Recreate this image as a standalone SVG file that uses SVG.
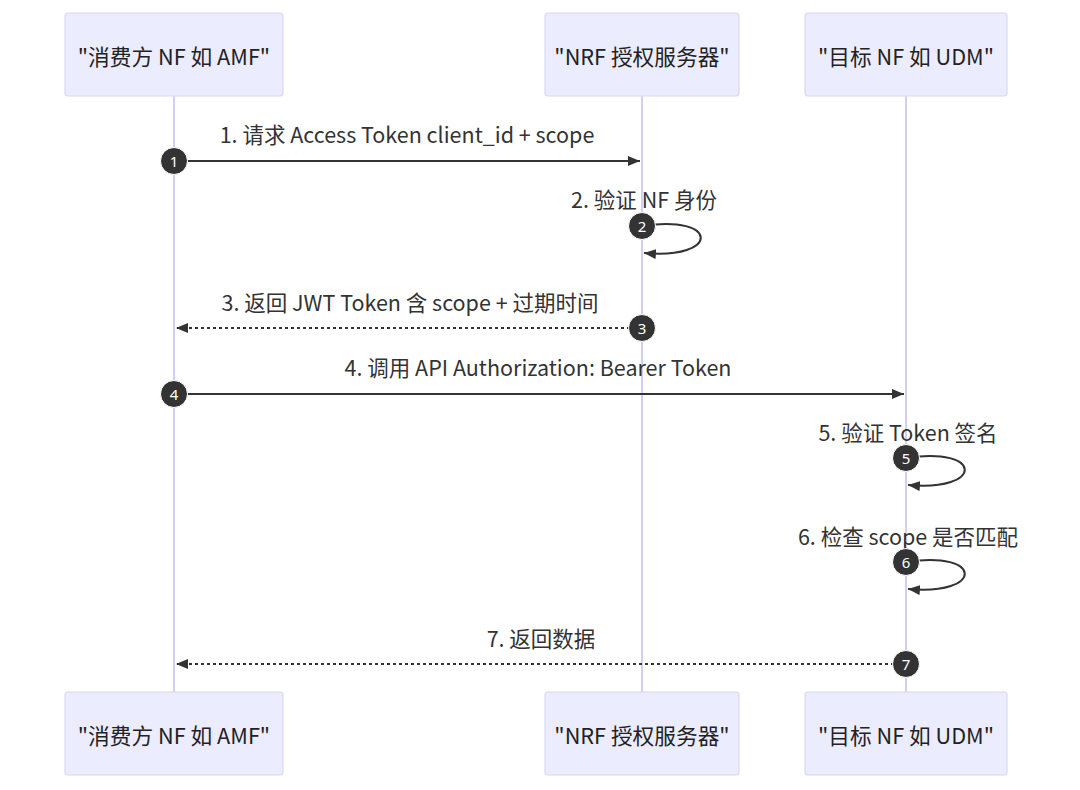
<svg xmlns="http://www.w3.org/2000/svg" width="1080" height="790" viewBox="0 0 1080 790">
<defs>
<style>
.actor{fill:#ECECFF;stroke:#d8d8f0;stroke-width:1.2}
.atxt{font-family:"Noto Sans CJK SC","Noto Sans",sans-serif;font-size:21.7px;fill:#222;text-anchor:middle;dominant-baseline:central}
.life{stroke:#d0d0f4;stroke-width:2}
.msg{stroke:#333;stroke-width:2;fill:none}
.dash{stroke-dasharray:3,3}
.mtxt{font-family:"Noto Sans CJK SC","Noto Sans",sans-serif;font-size:21.5px;fill:#333;text-anchor:middle}
.seq{fill:#333;stroke:#fff;stroke-width:1}
.stxt{font-family:"Noto Sans","DejaVu Sans",sans-serif;font-size:15px;fill:#fff;text-anchor:middle;dominant-baseline:central}
</style>
<marker id="arrow" viewBox="0 0 12 10" refX="12" refY="5" markerWidth="12" markerHeight="10" markerUnits="userSpaceOnUse" orient="auto">
<path d="M0,0 L12,5 L0,10 z" fill="#333"/>
</marker>
</defs>
<rect width="1080" height="790" fill="#fff"/>
<g id="lifelines">
<line class="life" x1="174" y1="96" x2="174" y2="692"/>
<line class="life" x1="642" y1="96" x2="642" y2="692"/>
<line class="life" x1="906" y1="96" x2="906" y2="692"/>
</g>
<g id="actor-amf-top"><rect class="actor" x="65" y="13" width="218" height="83" rx="3"/><text class="atxt" x="174" y="55">"消费方 NF 如 AMF"</text></g>
<g id="actor-nrf-top"><rect class="actor" x="545" y="13" width="194" height="83" rx="3"/><text class="atxt" x="642" y="55">"NRF 授权服务器"</text></g>
<g id="actor-udm-top"><rect class="actor" x="805" y="13" width="202" height="83" rx="3"/><text class="atxt" x="906" y="55">"目标 NF 如 UDM"</text></g>
<g id="actor-amf-bottom"><rect class="actor" x="65" y="692" width="218" height="83" rx="3"/><text class="atxt" x="174" y="734">"消费方 NF 如 AMF"</text></g>
<g id="actor-nrf-bottom"><rect class="actor" x="545" y="692" width="194" height="83" rx="3"/><text class="atxt" x="642" y="734">"NRF 授权服务器"</text></g>
<g id="actor-udm-bottom"><rect class="actor" x="805" y="692" width="202" height="83" rx="3"/><text class="atxt" x="906" y="734">"目标 NF 如 UDM"</text></g>
<g id="connectors">
<text class="mtxt" x="407" y="143">1. 请求 Access Token client_id + scope</text>
<line class="msg" x1="174" y1="161" x2="640" y2="161" marker-end="url(#arrow)"/>
<text class="mtxt" x="644" y="208">2. 验证 NF 身份</text>
<path class="msg" d="M642,226 C720,214 720,260 644,253" marker-end="url(#arrow)"/>
<text class="mtxt" x="410" y="311">3. 返回 JWT Token 含 scope + 过期时间</text>
<line class="msg dash" x1="642" y1="328" x2="176" y2="328" marker-end="url(#arrow)"/>
<text class="mtxt" x="538" y="376">4. 调用 API Authorization: Bearer Token</text>
<line class="msg" x1="174" y1="394" x2="904" y2="394" marker-end="url(#arrow)"/>
<text class="mtxt" x="908" y="441">5. 验证 Token 签名</text>
<path class="msg" d="M906,458 C984,446 984,492 908,485" marker-end="url(#arrow)"/>
<text class="mtxt" x="908" y="545">6. 检查 scope 是否匹配</text>
<path class="msg" d="M906,562 C984,550 984,596 908,589" marker-end="url(#arrow)"/>
<text class="mtxt" x="541" y="647">7. 返回数据</text>
<line class="msg dash" x1="906" y1="664" x2="176" y2="664" marker-end="url(#arrow)"/>
</g>
<g id="sequence-numbers">
<circle class="seq" cx="174" cy="161" r="13.5"/><text class="stxt" x="174" y="161">1</text>
<circle class="seq" cx="642" cy="226" r="13.5"/><text class="stxt" x="642" y="226">2</text>
<circle class="seq" cx="642" cy="328" r="13.5"/><text class="stxt" x="642" y="328">3</text>
<circle class="seq" cx="174" cy="394" r="13.5"/><text class="stxt" x="174" y="394">4</text>
<circle class="seq" cx="906" cy="458" r="13.5"/><text class="stxt" x="906" y="458">5</text>
<circle class="seq" cx="906" cy="562" r="13.5"/><text class="stxt" x="906" y="562">6</text>
<circle class="seq" cx="906" cy="664" r="13.5"/><text class="stxt" x="906" y="664">7</text>
</g>
</svg>
